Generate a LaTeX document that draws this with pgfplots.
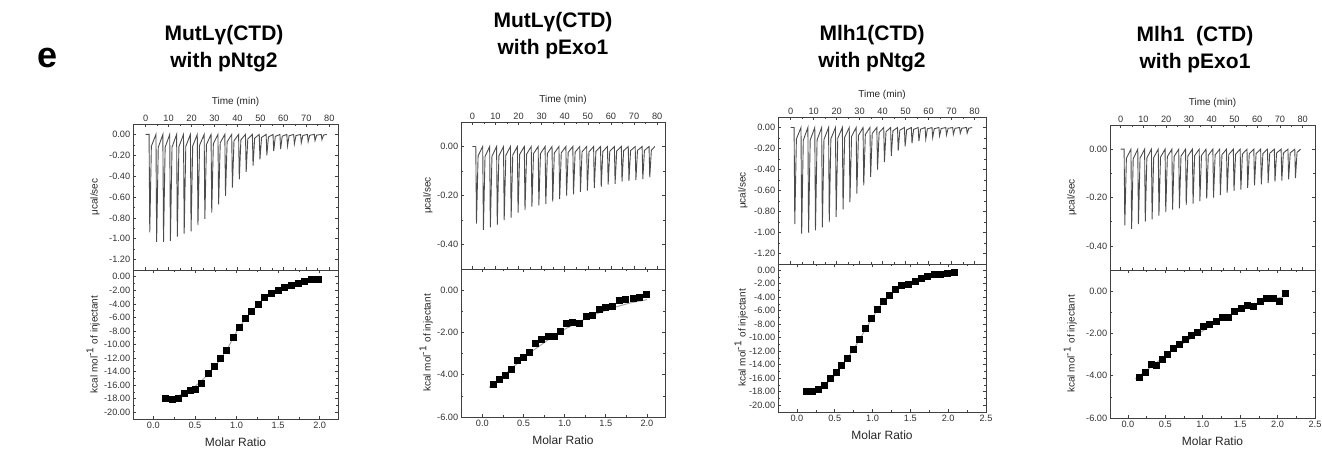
\documentclass[border=0pt]{standalone}
\usepackage{fontspec}
\setmainfont{Liberation Sans}
\usepackage{pgfplots}
\pgfplotsset{compat=1.18}

\pgfplotsset{
  itc/.style={
    scale only axis,
    axis line style={black!75, line width=0.4pt},
    tick style={black!75, line width=0.3pt},
    major tick length=1.6pt,
    minor tick length=0.9pt,
    tick label style={font=\fontsize{4.6}{5.5}\selectfont, text=black!80, inner sep=1.2pt},
    /pgf/number format/assume math mode=true,
    scaled ticks=false,
    yticklabel style={/pgf/number format/fixed, /pgf/number format/zerofill, /pgf/number format/precision=2},
    minor x tick num=1,
    minor y tick num=1,
  },
  ylab/.style={every axis y label/.style={at={(rel axis cs:0,0.5)}, rotate=90, anchor=south,
    inner sep=0pt, yshift=#1, font=\fontsize{5}{6}\selectfont, text=black!85}},
  raw/.style={itc, xticklabel pos=upper, xlabel={Time (min)}, ylabel={μcal/sec},
    xlabel style={font=\fontsize{5}{6}\selectfont, text=black!85, inner sep=1pt, yshift=1.5pt},
    xtick={0,10,20,30,40,50,60,70,80}},
  heat/.style={itc, xlabel={Molar Ratio}, ylabel={kcal mol\textsuperscript{-1} of injectant},
    xlabel style={font=\fontsize{6}{7}\selectfont, text=black!85, inner sep=0.5pt, yshift=-3pt},
    xticklabel style={/pgf/number format/fixed, /pgf/number format/zerofill, /pgf/number format/precision=1}},
  thermo/.style={black!70, line width=0.45pt},
  fitline/.style={gray!70, line width=0.5pt},
  pts/.style={only marks, mark=square*, mark size=1.5pt, black},
}

\begin{document}
\begin{tikzpicture}
\useasboundingbox (0pt,0pt) rectangle (661pt,226pt);

\node[font=\fontsize{18}{18}\bfseries] at (24pt,197pt) {e};
\node[align=center, font=\fontsize{10.5}{13.5}\selectfont\bfseries] at (112pt,201.5pt) {MutLγ(CTD)\\with pNtg2};
\node[align=center, font=\fontsize{10.5}{13.5}\selectfont\bfseries] at (276.5pt,208pt) {MutLγ(CTD)\\with pExo1};
\node[align=center, font=\fontsize{10.5}{13.5}\selectfont\bfseries] at (436pt,201.5pt) {Mlh1(CTD)\\with pNtg2};
\node[align=center, font=\fontsize{10.5}{13.5}\selectfont\bfseries] at (597.5pt,201pt) {Mlh1\ \ (CTD)\\with pExo1};

% ---------- panel 1: MutLg(CTD) with pNtg2
\begin{axis}[raw, ylab=16.5pt, at={(66.5pt,91pt)}, anchor=south west,
  width=102.5pt, height=73pt, xmin=-5.5, xmax=83.8, ymin=-1.3, ymax=0.1,
  ytick={0,-0.2,-0.4,-0.6,-0.8,-1.0,-1.2}]
\addplot[thermo] table {
0 0
1.5 0
1.8 -0.94
2.5 -0.113
4.5 0
4.8 -1.03
5.5 -0.124
7.5 0
7.8 -1.03
8.5 -0.124
10.5 0
10.8 -1.02
11.5 -0.122
13.5 0
13.8 -0.98
14.5 -0.118
16.5 0
16.8 -0.95
17.5 -0.114
19.5 0
19.8 -0.93
20.5 -0.112
22.5 0
22.8 -0.87
23.5 -0.104
25.5 0
25.8 -0.81
26.5 -0.097
28.5 0
28.8 -0.75
29.5 -0.090
31.5 0
31.8 -0.67
32.5 -0.080
34.5 0
34.8 -0.59
35.5 -0.071
37.5 0
37.8 -0.51
38.5 -0.061
40.5 0
40.8 -0.43
41.5 -0.052
43.5 0
43.8 -0.36
44.5 -0.043
46.5 0
46.8 -0.30
47.5 -0.036
49.5 0
49.8 -0.24
50.5 -0.029
52.5 0
52.8 -0.20
53.5 -0.024
55.5 0
55.8 -0.16
56.5 -0.019
58.5 0
58.8 -0.14
59.5 -0.017
61.5 0
61.8 -0.11
62.5 -0.013
64.5 0
64.8 -0.09
65.5 -0.011
67.5 0
67.8 -0.08
68.5 -0.010
70.5 0
70.8 -0.07
71.5 -0.008
73.5 0
73.8 -0.06
74.5 -0.007
76.5 0
76.8 -0.05
77.5 -0.006
79 0
};
\end{axis}
\begin{axis}[heat, ylab=16.5pt, at={(66.5pt,91pt)}, anchor=north west,
  width=102.5pt, height=74.5pt, xmin=-0.245, xmax=2.22, ymin=-21, ymax=1,
  xtick={0,0.5,1.0,1.5,2.0},
  ytick={0,-2,-4,-6,-8,-10,-12,-14,-16,-18,-20}]
\addplot[fitline] coordinates {(0.10,-18.2) (0.2,-18.0) (0.3,-17.6) (0.4,-17.0) (0.5,-16.2) (0.6,-15.1) (0.7,-13.8) (0.8,-12.3) (0.9,-10.4) (1.0,-8.1) (1.1,-6.3) (1.2,-4.8) (1.3,-3.6) (1.4,-2.7) (1.5,-2.1) (1.6,-1.6) (1.7,-1.25) (1.8,-0.95) (1.9,-0.7) (2.0,-0.55)};
\addplot[pts] coordinates {(0.15,-18.0) (0.23,-18.1) (0.30,-18.0) (0.37,-17.2) (0.44,-16.8) (0.51,-16.7) (0.58,-15.7) (0.66,-14.3) (0.73,-13.3) (0.81,-12.1) (0.88,-10.8) (0.96,-8.9) (1.03,-7.5) (1.11,-6.1) (1.18,-5.1) (1.26,-4.1) (1.34,-3.0) (1.42,-2.5) (1.50,-2.0) (1.58,-1.6) (1.66,-1.2) (1.74,-1.0) (1.82,-0.7) (1.90,-0.4) (1.99,-0.4)};
\end{axis}

% ---------- panel 2: MutLg(CTD) with pExo1
\begin{axis}[raw, ylab=14pt, at={(230.5pt,91.5pt)}, anchor=south west,
  width=102pt, height=73.5pt, xmin=-4.9, xmax=83.4, ymin=-0.5, ymax=0.1,
  ytick={0,-0.2,-0.4}]
\addplot[thermo] table {
0 0
1.5 0
1.8 -0.315
2.5 -0.038
4.5 0
4.8 -0.34
5.5 -0.041
7.5 0
7.8 -0.33
8.5 -0.040
10.5 0
10.8 -0.32
11.5 -0.038
13.5 0
13.8 -0.30
14.5 -0.036
16.5 0
16.8 -0.29
17.5 -0.035
19.5 0
19.8 -0.27
20.5 -0.032
22.5 0
22.8 -0.26
23.5 -0.031
25.5 0
25.8 -0.245
26.5 -0.029
28.5 0
28.8 -0.24
29.5 -0.029
31.5 0
31.8 -0.235
32.5 -0.028
34.5 0
34.8 -0.225
35.5 -0.027
37.5 0
37.8 -0.215
38.5 -0.026
40.5 0
40.8 -0.20
41.5 -0.024
43.5 0
43.8 -0.195
44.5 -0.023
46.5 0
46.8 -0.185
47.5 -0.022
49.5 0
49.8 -0.18
50.5 -0.022
52.5 0
52.8 -0.17
53.5 -0.020
55.5 0
55.8 -0.165
56.5 -0.020
58.5 0
58.8 -0.155
59.5 -0.019
61.5 0
61.8 -0.152
62.5 -0.018
64.5 0
64.8 -0.143
65.5 -0.017
67.5 0
67.8 -0.14
68.5 -0.017
70.5 0
70.8 -0.137
71.5 -0.016
73.5 0
73.8 -0.133
74.5 -0.016
76.5 0
76.8 -0.126
77.5 -0.015
79 0
};
\end{axis}
\begin{axis}[heat, ylab=14pt, at={(230.5pt,91.5pt)}, anchor=north west,
  width=102pt, height=74pt, xmin=-0.26, xmax=2.22, ymin=-6, ymax=1,
  xtick={0,0.5,1.0,1.5,2.0},
  ytick={0,-2,-4,-6}]
\addplot[fitline] coordinates {(0.08,-4.6) (0.2,-4.25) (0.4,-3.55) (0.6,-2.9) (0.8,-2.35) (1.0,-1.85) (1.2,-1.45) (1.4,-1.1) (1.6,-0.82) (1.8,-0.6) (2.0,-0.45)};
\addplot[pts] coordinates {(0.13,-4.47) (0.21,-4.21) (0.28,-4.03) (0.35,-3.75) (0.43,-3.34) (0.50,-3.17) (0.57,-2.94) (0.65,-2.51) (0.72,-2.35) (0.80,-2.17) (0.87,-2.18) (0.95,-1.93) (1.02,-1.57) (1.10,-1.54) (1.18,-1.55) (1.26,-1.22) (1.34,-1.18) (1.42,-0.89) (1.50,-0.83) (1.58,-0.77) (1.66,-0.50) (1.74,-0.42) (1.83,-0.39) (1.91,-0.36) (1.99,-0.19)};
\end{axis}

% ---------- panel 3: Mlh1(CTD) with pNtg2
\begin{axis}[raw, ylab=15pt, at={(389pt,94pt)}, anchor=south west,
  width=104pt, height=73.5pt, xmin=-5.5, xmax=85, ymin=-1.3, ymax=0.1,
  ytick={0,-0.2,-0.4,-0.6,-0.8,-1.0,-1.2}]
\addplot[thermo] table {
0 0
1.5 0
1.8 -0.92
2.5 -0.110
4.5 0
4.8 -1.01
5.5 -0.121
7.5 0
7.8 -1.00
8.5 -0.120
10.5 0
10.8 -0.98
11.5 -0.118
13.5 0
13.8 -0.95
14.5 -0.114
16.5 0
16.8 -0.90
17.5 -0.108
19.5 0
19.8 -0.85
20.5 -0.102
22.5 0
22.8 -0.78
23.5 -0.094
25.5 0
25.8 -0.71
26.5 -0.085
28.5 0
28.8 -0.63
29.5 -0.076
31.5 0
31.8 -0.55
32.5 -0.066
34.5 0
34.8 -0.47
35.5 -0.056
37.5 0
37.8 -0.40
38.5 -0.048
40.5 0
40.8 -0.33
41.5 -0.040
43.5 0
43.8 -0.27
44.5 -0.032
46.5 0
46.8 -0.22
47.5 -0.026
49.5 0
49.8 -0.18
50.5 -0.022
52.5 0
52.8 -0.15
53.5 -0.018
55.5 0
55.8 -0.13
56.5 -0.016
58.5 0
58.8 -0.11
59.5 -0.013
61.5 0
61.8 -0.095
62.5 -0.011
64.5 0
64.8 -0.08
65.5 -0.010
67.5 0
67.8 -0.07
68.5 -0.008
70.5 0
70.8 -0.065
71.5 -0.008
73.5 0
73.8 -0.055
74.5 -0.007
76.5 0
76.8 -0.055
77.5 -0.007
79 0
};
\end{axis}
\begin{axis}[heat, ylab=15pt, at={(389pt,94pt)}, anchor=north west,
  width=104pt, height=74pt, xmin=-0.25, xmax=2.5, ymin=-21, ymax=0.9,
  xtick={0,0.5,1.0,1.5,2.0,2.5},
  ytick={0,-2,-4,-6,-8,-10,-12,-14,-16,-18,-20}]
\addplot[fitline] coordinates {(0.1,-18.2) (0.2,-18.0) (0.3,-17.6) (0.4,-16.7) (0.5,-15.6) (0.6,-14.1) (0.7,-12.5) (0.8,-10.8) (0.9,-8.9) (1.0,-7.0) (1.1,-5.3) (1.2,-3.9) (1.3,-2.9) (1.4,-2.2) (1.5,-1.75) (1.6,-1.4) (1.7,-1.1) (1.8,-0.85) (1.9,-0.7) (2.0,-0.55) (2.1,-0.45)};
\addplot[pts] coordinates {(0.13,-18.0) (0.21,-18.0) (0.28,-17.6) (0.36,-17.0) (0.44,-16.0) (0.52,-15.2) (0.59,-14.1) (0.67,-13.1) (0.75,-11.7) (0.83,-10.3) (0.90,-8.6) (0.98,-7.2) (1.06,-5.8) (1.14,-4.7) (1.22,-3.7) (1.30,-2.9) (1.38,-2.3) (1.47,-2.1) (1.56,-1.7) (1.64,-1.3) (1.73,-0.9) (1.82,-0.7) (1.90,-0.7) (1.99,-0.5) (2.08,-0.4)};
\end{axis}

% ---------- panel 4: Mlh1 (CTD) with pExo1
\begin{axis}[raw, ylab=16.5pt, at={(555pt,91pt)}, anchor=south west,
  width=102.5pt, height=72.5pt, xmin=-4.7, xmax=85.4, ymin=-0.5, ymax=0.1,
  ytick={0,-0.2,-0.4}]
\addplot[thermo] table {
0 0
1.5 0
1.8 -0.315
2.5 -0.038
4.5 0
4.8 -0.33
5.5 -0.040
7.5 0
7.8 -0.31
8.5 -0.037
10.5 0
10.8 -0.30
11.5 -0.036
13.5 0
13.8 -0.29
14.5 -0.035
16.5 0
16.8 -0.275
17.5 -0.033
19.5 0
19.8 -0.26
20.5 -0.031
22.5 0
22.8 -0.25
23.5 -0.030
25.5 0
25.8 -0.245
26.5 -0.029
28.5 0
28.8 -0.23
29.5 -0.028
31.5 0
31.8 -0.225
32.5 -0.027
34.5 0
34.8 -0.215
35.5 -0.026
37.5 0
37.8 -0.205
38.5 -0.025
40.5 0
40.8 -0.20
41.5 -0.024
43.5 0
43.8 -0.19
44.5 -0.023
46.5 0
46.8 -0.18
47.5 -0.022
49.5 0
49.8 -0.173
50.5 -0.021
52.5 0
52.8 -0.167
53.5 -0.020
55.5 0
55.8 -0.16
56.5 -0.019
58.5 0
58.8 -0.15
59.5 -0.018
61.5 0
61.8 -0.146
62.5 -0.018
64.5 0
64.8 -0.14
65.5 -0.017
67.5 0
67.8 -0.134
68.5 -0.016
70.5 0
70.8 -0.13
71.5 -0.016
73.5 0
73.8 -0.125
74.5 -0.015
76.5 0
76.8 -0.12
77.5 -0.014
79 0
};
\end{axis}
\begin{axis}[heat, ylab=16.5pt, at={(555pt,91pt)}, anchor=north west,
  width=102.5pt, height=74pt, xmin=-0.24, xmax=2.5, ymin=-6, ymax=1,
  xtick={0,0.5,1.0,1.5,2.0,2.5},
  ytick={0,-2,-4,-6}]
\addplot[fitline] coordinates {(0.1,-4.15) (0.3,-3.6) (0.5,-3.05) (0.7,-2.55) (0.9,-2.1) (1.1,-1.65) (1.3,-1.25) (1.5,-0.9) (1.7,-0.6) (1.9,-0.4) (2.1,-0.25)};
\addplot[pts] coordinates {(0.15,-4.08) (0.23,-3.82) (0.31,-3.48) (0.38,-3.52) (0.46,-3.21) (0.53,-2.97) (0.61,-2.73) (0.69,-2.53) (0.77,-2.29) (0.85,-2.09) (0.93,-1.97) (1.01,-1.69) (1.09,-1.58) (1.18,-1.42) (1.26,-1.22) (1.34,-1.23) (1.42,-0.98) (1.51,-0.81) (1.59,-0.68) (1.68,-0.70) (1.77,-0.47) (1.85,-0.32) (1.94,-0.32) (2.03,-0.47) (2.11,-0.11)};
\end{axis}
\end{tikzpicture}
\end{document}
